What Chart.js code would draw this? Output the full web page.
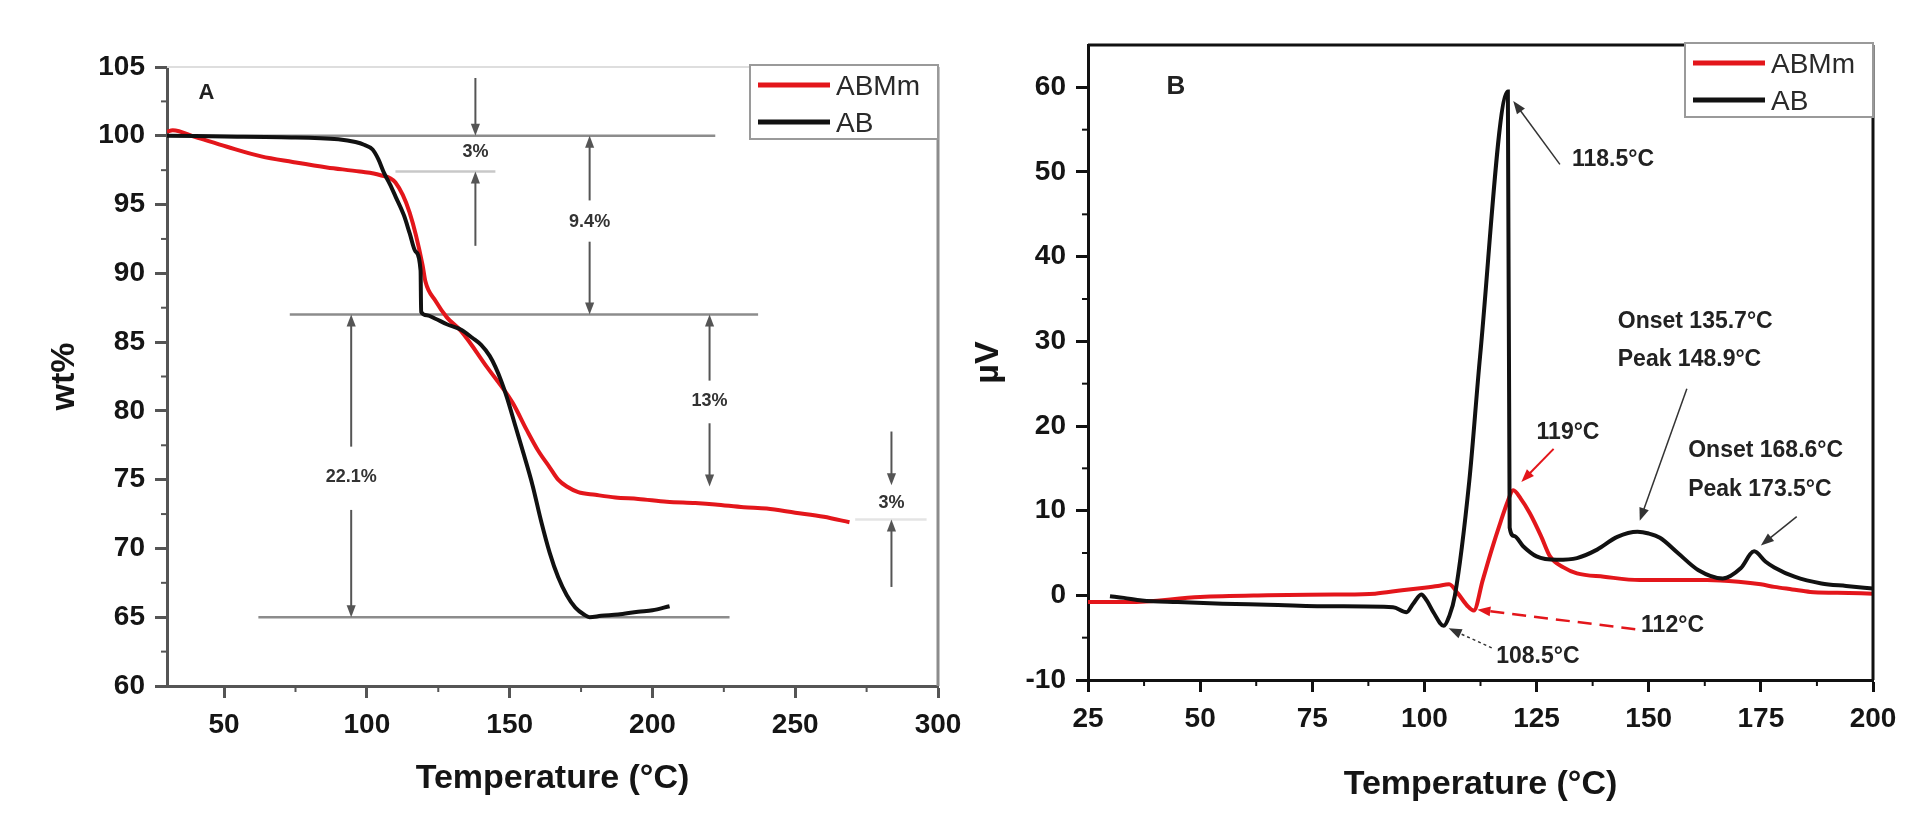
<!DOCTYPE html>
<html>
<head>
<meta charset="utf-8">
<script src="https://cdn.jsdelivr.net/npm/chart.js@4.4.1/dist/chart.umd.min.js"></script>
<style>
html, body { margin: 0; padding: 0; background: #fff; }
body { width: 1920px; height: 835px; position: relative; overflow: hidden; }
canvas { position: absolute; top: 0; }
#chartA { left: 0; }
#chartB { left: 920px; }
</style>
</head>
<body>
<canvas id="chartA" width="1000" height="835"></canvas>
<canvas id="chartB" width="1000" height="835"></canvas>
<script>
var family = '"Liberation Sans", Arial, Helvetica, sans-serif';

// series names / colours
var seriesNames = ['ABMm', 'AB'];
var seriesColors = ['#e3161b', '#111111'];

// panel A - TGA (wt% vs temperature)
var tgaTempABMm = [30, 32, 40, 51, 63, 74, 86, 97.5, 104.5, 110, 115, 119.5, 120.5, 124, 128, 133, 142, 151, 156, 160, 164, 167, 170, 174, 180, 187, 195, 205, 215, 222, 232, 240, 250, 260, 269];
var tgaABMm = [100.3, 100.4, 99.9, 99.2, 98.5, 98.1, 97.7, 97.4, 97.15, 96.6, 94.4, 90.6, 89.4, 88.0, 86.8, 85.8, 83.2, 80.6, 78.6, 77.1, 75.9, 75.0, 74.5, 74.1, 73.9, 73.7, 73.6, 73.4, 73.3, 73.2, 73.0, 72.9, 72.6, 72.3, 71.9];
var tgaTempAB = [30, 50, 70, 90, 96, 99, 102, 104, 106, 108, 110, 113, 115, 117, 118.8, 119, 121, 124, 128, 133, 137, 140, 143, 145, 147, 149, 152, 155, 158, 161, 164, 167, 170, 173, 176, 178, 182, 188, 195, 200, 206];
var tgaAB = [100, 99.95, 99.9, 99.75, 99.55, 99.35, 99.0, 98.3, 97.3, 96.5, 95.6, 94.2, 92.9, 91.6, 90.2, 87.2, 86.95, 86.7, 86.3, 85.9, 85.3, 84.8, 84.0, 83.2, 82.2, 81.0, 78.9, 76.8, 74.6, 72.0, 69.7, 67.9, 66.6, 65.7, 65.2, 65.0, 65.1, 65.2, 65.4, 65.5, 65.8];
var tgaTicksX = [50, 100, 150, 200, 250, 300];
var tgaTicksY = [60, 65, 70, 75, 80, 85, 90, 95, 100, 105];
var tgaMinorX = [75, 125, 175, 225, 275];
var tgaMinorY = [62.5, 67.5, 72.5, 77.5, 82.5, 87.5, 92.5, 97.5, 102.5];

// panel B - DSC (uV vs temperature)
var dscTempABMm = [25, 34, 50, 65, 80, 89, 95, 100, 103, 105.5, 107.5, 109.5, 111, 113, 115, 117, 118.5, 119.8, 121.5, 123.5, 126, 128, 131, 134, 140, 148, 155, 163, 170, 175, 178, 182, 186, 192, 200];
var dscABMm = [-0.8, -0.8, -0.2, 0, 0.1, 0.2, 0.6, 0.9, 1.1, 1.3, 0.2, -1.2, -1.8, 1.8, 5.4, 8.7, 11.0, 12.4, 11.4, 9.7, 7.0, 4.6, 3.3, 2.6, 2.2, 1.8, 1.8, 1.8, 1.6, 1.3, 1.0, 0.7, 0.4, 0.3, 0.2];
var dscTempAB = [29.9, 33, 37, 45, 55, 65, 80, 93, 96, 97.5, 99.3, 100.5, 102, 104.3, 105.5, 106.8, 110, 112.4, 118.6, 119.0, 120, 122, 125, 129.5, 134, 138.5, 143, 147.5, 150, 152.5, 156.5, 161, 166.5, 170.5, 173.5, 176, 178, 182.5, 188.5, 194, 200];
var dscAB = [-0.1, -0.3, -0.6, -0.8, -1.0, -1.1, -1.3, -1.4, -2.0, -1.0, 0.1, -0.6, -2.0, -3.6, -2.5, 0.0, 13.5, 28.2, 59.5, 8.0, 7.0, 5.8, 4.6, 4.2, 4.4, 5.4, 6.9, 7.5, 7.3, 6.8, 5.0, 3.0, 2.0, 3.2, 5.2, 4.0, 3.3, 2.2, 1.4, 1.1, 0.8];
var dscTicksX = [25, 50, 75, 100, 125, 150, 175, 200];
var dscTicksY = [-10, 0, 10, 20, 30, 40, 50, 60];
var dscMinorX = [37.5, 62.5, 87.5, 112.5, 137.5, 162.5, 187.5];
var dscMinorY = [-5, 5, 15, 25, 35, 45, 55];

function zip(xs, ys) {
  return xs.map(function (x, i) { return { x: x, y: ys[i] }; });
}

function arrowLine(ctx, x1, y1, x2, y2, color, width, dash, head) {
  var ang = Math.atan2(y2 - y1, x2 - x1);
  var c = Math.cos(ang), s = Math.sin(ang);
  ctx.save();
  ctx.strokeStyle = color;
  ctx.fillStyle = color;
  ctx.lineWidth = width;
  ctx.setLineDash(dash || []);
  ctx.beginPath();
  ctx.moveTo(x1, y1);
  ctx.lineTo(x2 - c * head * 0.8, y2 - s * head * 0.8);
  ctx.stroke();
  ctx.setLineDash([]);
  ctx.beginPath();
  ctx.moveTo(x2, y2);
  ctx.lineTo(x2 - head * c + head * 0.38 * s, y2 - head * s - head * 0.38 * c);
  ctx.lineTo(x2 - head * c - head * 0.38 * s, y2 - head * s + head * 0.38 * c);
  ctx.closePath();
  ctx.fill();
  ctx.restore();
}

// extra drawing: reference lines, frame, minor ticks, arrows, labels, legend
function decor(o) {
  return {
    id: 'decor',
    beforeDatasetsDraw: function (chart) {
      var ctx = chart.ctx, sx = chart.scales.x, sy = chart.scales.y;
      (o.refLines || []).forEach(function (r) {
        var py = sy.getPixelForValue(r[0]);
        ctx.save();
        ctx.strokeStyle = r[3];
        ctx.lineWidth = 2.5;
        ctx.beginPath();
        ctx.moveTo(sx.getPixelForValue(r[1]), py);
        ctx.lineTo(sx.getPixelForValue(r[2]), py);
        ctx.stroke();
        ctx.restore();
      });
    },
    afterDatasetsDraw: function (chart) {
      var ctx = chart.ctx, sx = chart.scales.x, sy = chart.scales.y, a = chart.chartArea;
      ctx.save();
      // frame top / right
      ctx.lineWidth = o.topW;
      ctx.strokeStyle = o.topColor;
      ctx.beginPath(); ctx.moveTo(a.left, a.top); ctx.lineTo(a.right, a.top); ctx.stroke();
      ctx.lineWidth = o.rightW;
      ctx.strokeStyle = o.rightColor;
      ctx.beginPath(); ctx.moveTo(a.right, a.top); ctx.lineTo(a.right, a.bottom); ctx.stroke();
      // minor ticks
      ctx.strokeStyle = o.axisColor;
      ctx.lineWidth = 2;
      o.minorX.forEach(function (v) {
        var px = sx.getPixelForValue(v);
        ctx.beginPath(); ctx.moveTo(px, a.bottom); ctx.lineTo(px, a.bottom + 6); ctx.stroke();
      });
      o.minorY.forEach(function (v) {
        var py = sy.getPixelForValue(v);
        ctx.beginPath(); ctx.moveTo(a.left, py); ctx.lineTo(a.left - 6, py); ctx.stroke();
      });
      // arrows
      (o.arrows || []).forEach(function (r) {
        arrowLine(ctx, sx.getPixelForValue(r[0]), sy.getPixelForValue(r[1]),
          sx.getPixelForValue(r[2]), sy.getPixelForValue(r[3]), r[4], r[5], r[6], o.head);
      });
      // labels
      ctx.textBaseline = 'middle';
      ctx.textAlign = o.labelAlign;
      ctx.fillStyle = o.labelColor;
      ctx.font = 'bold ' + o.labelSize + 'px ' + family;
      (o.labels || []).forEach(function (l) {
        ctx.fillText(l[0], sx.getPixelForValue(l[1]), sy.getPixelForValue(l[2]));
      });
      // panel letter
      ctx.textAlign = 'left';
      ctx.fillStyle = '#222';
      ctx.font = 'bold ' + o.letterSize + 'px ' + family;
      ctx.fillText(o.letter[0], sx.getPixelForValue(o.letter[1]), sy.getPixelForValue(o.letter[2]));
      // legend
      var bw = 188, bh = 74, bx = a.right - bw, by = a.top - 2;
      ctx.fillStyle = '#fff';
      ctx.fillRect(bx, by, bw, bh);
      ctx.strokeStyle = '#9a9a9a';
      ctx.lineWidth = 2;
      ctx.strokeRect(bx, by, bw, bh);
      ctx.font = '28px ' + family;
      chart.data.datasets.forEach(function (ds, i) {
        var ly = by + 20 + i * 37;
        ctx.strokeStyle = ds.borderColor;
        ctx.lineWidth = 5;
        ctx.beginPath(); ctx.moveTo(bx + 8, ly); ctx.lineTo(bx + 80, ly); ctx.stroke();
        ctx.fillStyle = '#2a2a2a';
        ctx.fillText(ds.label, bx + 86, ly + 2);
      });
      ctx.restore();
    }
  };
}

function axis(ticks, min, max, color, size, title, titlePad) {
  return {
    type: 'linear',
    min: min,
    max: max,
    afterBuildTicks: function (s) { s.ticks = ticks.map(function (v) { return { value: v }; }); },
    afterFit: function (s) { if (s.isHorizontal()) { s.height = size; } else { s.width = size; } },
    border: { display: true, color: color, width: 3 },
    grid: { drawOnChartArea: false, drawTicks: true, tickLength: 12, tickWidth: 3, tickColor: color },
    ticks: { color: '#151515', padding: 10, autoSkip: false, maxRotation: 0, font: { family: family, size: 28, weight: 'bold' } },
    title: { display: true, text: title, color: '#151515', padding: titlePad, font: { family: family, size: 34, weight: 'bold' } }
  };
}

function datasets(xa, ya, xb, yb) {
  return [
    { label: seriesNames[0], data: zip(xa, ya), borderColor: seriesColors[0], borderWidth: 4, order: 2 },
    { label: seriesNames[1], data: zip(xb, yb), borderColor: seriesColors[1], borderWidth: 4, order: 1 }
  ];
}

function common(padding, x, y) {
  return {
    responsive: false,
    animation: false,
    devicePixelRatio: 1,
    layout: { padding: padding },
    elements: { point: { radius: 0 }, line: { cubicInterpolationMode: 'monotone', fill: false } },
    plugins: { legend: { display: false }, tooltip: { enabled: false } },
    scales: { x: x, y: y }
  };
}

new Chart(document.getElementById('chartA'), {
  type: 'line',
  data: { datasets: datasets(tgaTempABMm, tgaABMm, tgaTempAB, tgaAB) },
  options: common({ left: 0, top: 67, right: 62, bottom: 0 },
    axis(tgaTicksX, 30, 300, '#555', 149, 'Temperature (°C)', { bottom: 36 }),
    axis(tgaTicksY, 60, 105, '#555', 167, 'wt%', { top: 44 })),
  plugins: [decor({
    topColor: '#dedede', topW: 2, rightColor: '#8c8c8c', rightW: 3, axisColor: '#555',
    minorX: tgaMinorX, minorY: tgaMinorY, head: 12,
    refLines: [
      [100, 30, 222, '#8c8c8c'],
      [97.4, 110, 145, '#c8c8c8'],
      [87, 73, 237, '#8c8c8c'],
      [65, 62, 227, '#8c8c8c'],
      [72.1, 271, 296, '#e4e4e4']
    ],
    arrows: [
      [138, 104.2, 138, 100, '#555', 2, []], [138, 92, 138, 97.4, '#555', 2, []],
      [178, 95.3, 178, 100, '#555', 2, []], [178, 92.3, 178, 87, '#555', 2, []],
      [220, 82.2, 220, 87, '#555', 2, []], [220, 79.1, 220, 74.5, '#555', 2, []],
      [94.5, 77.4, 94.5, 87, '#555', 2, []], [94.5, 72.8, 94.5, 65, '#555', 2, []],
      [283.7, 78.5, 283.7, 74.6, '#555', 2, []], [283.7, 67.2, 283.7, 72.1, '#555', 2, []]
    ],
    labels: [['3%', 138, 98.8], ['9.4%', 178, 93.7], ['13%', 220, 80.7], ['22.1%', 94.5, 75.2], ['3%', 283.7, 73.3]],
    labelAlign: 'center', labelColor: '#333', labelSize: 18,
    letter: ['A', 41, 103.1], letterSize: 22
  })]
});

new Chart(document.getElementById('chartB'), {
  type: 'line',
  data: { datasets: datasets(dscTempABMm, dscABMm, dscTempAB, dscAB) },
  options: common({ left: 0, top: 45, right: 47, bottom: 0 },
    axis(dscTicksX, 25, 200, '#111', 155, 'Temperature (°C)', { bottom: 30 }),
    axis(dscTicksY, -10, 65, '#111', 168, 'µV', { top: 48 })),
  plugins: [decor({
    topColor: '#111', topW: 3, rightColor: '#111', rightW: 3, axisColor: '#111',
    minorX: dscMinorX, minorY: dscMinorY, head: 13,
    arrows: [
      [130.2, 50.9, 119.8, 58.4, '#333', 1.5, []],
      [158.5, 24.4, 148, 8.8, '#333', 1.5, []],
      [128.8, 17.3, 121.6, 13.4, '#e3161b', 2, []],
      [183, 9.3, 175, 5.9, '#333', 1.5, []],
      [147, -4.0, 111.8, -1.7, '#e3161b', 2.5, [14, 8]],
      [115, -6.2, 105.4, -3.9, '#333', 1.5, [3, 3]]
    ],
    labels: [
      ['118.5°C', 132.9, 51.5], ['Onset 135.7°C', 143.1, 32.3], ['Peak 148.9°C', 143.1, 27.8],
      ['119°C', 125, 19.2], ['Onset 168.6°C', 158.8, 17.1], ['Peak 173.5°C', 158.8, 12.5],
      ['112°C', 148.3, -3.6], ['108.5°C', 116, -7.3]
    ],
    labelAlign: 'left', labelColor: '#222', labelSize: 23,
    letter: ['B', 42.5, 60.1], letterSize: 26
  })]
});
</script>
</body>
</html>
